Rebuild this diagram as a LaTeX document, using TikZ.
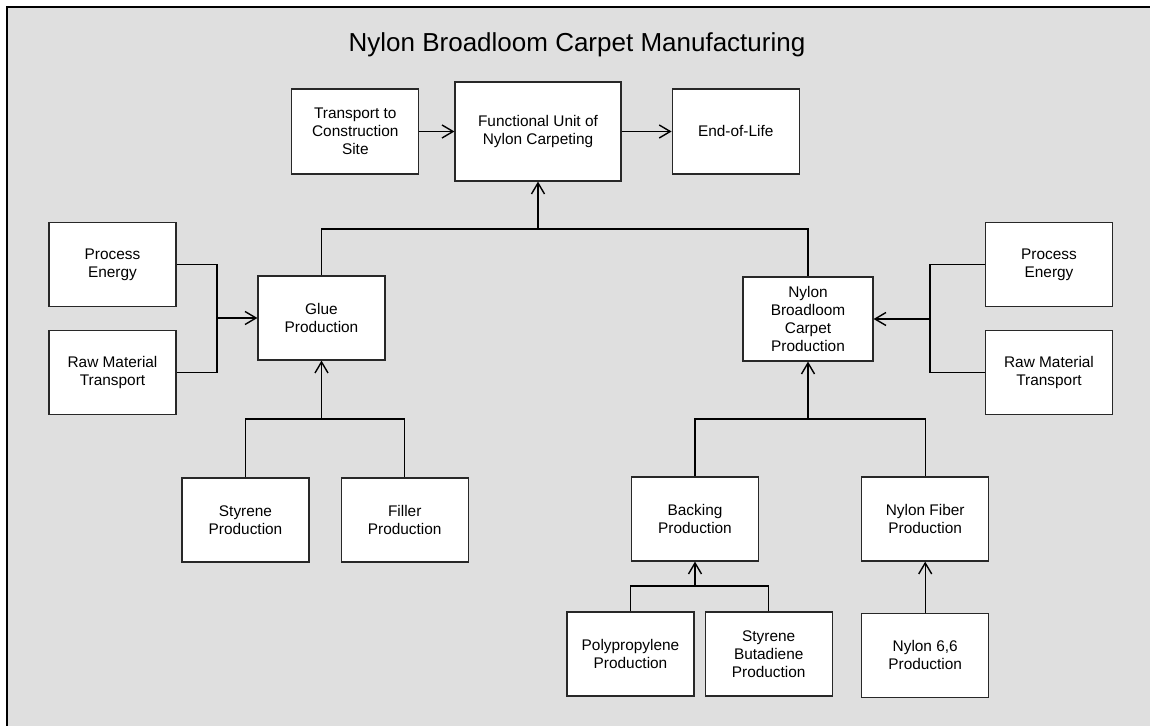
\documentclass[tikz,border=0pt]{standalone}
\usepackage{fontspec}
\setmainfont{Liberation Sans}
\usetikzlibrary{arrows.meta,positioning}
\definecolor{panelgray}{RGB}{223,223,223}
\definecolor{edgegray}{RGB}{40,40,40}

\begin{document}
\begin{tikzpicture}[
      x=0.5pt, y=-0.5pt,
      font=\fontsize{7.7}{9}\selectfont,
      box/.style={draw=edgegray, line width=0.6pt, fill=white, align=center,
        inner sep=1pt, minimum height=42pt},
      wbox/.style={box, minimum width=63.5pt},
      lnk/.style={line width=0.7pt},
      arr/.style={lnk, -{Straight Barb[length=5.5pt, width=6.5pt]}}
    ]
    \useasboundingbox (0,0) rectangle (1150,726);
    \fill[panelgray] (7,7) rectangle (1150,726);
    \draw[line width=1pt] (7,726) -- (7,7) -- (1150,7);

    \node[font=\fontsize{13}{15}\selectfont, anchor=base] (title) at (577,52)
      {Nylon Broadloom Carpet Manufacturing};

    % top row
    \node[box, minimum width=83pt, minimum height=49.5pt] (fu) at (538,131.5)
      {Functional Unit of\\Nylon Carpeting};
    \node[wbox, minimum height=42.5pt, left=17.5pt of fu] (site)
      {Transport to\\Construction\\Site};
    \node[wbox, minimum height=42.5pt, right=25pt of fu] (eol) {End-of-Life};

    % glue branch
    \node[wbox] (glue) at (321.5,318) {Glue\\Production};
    \node[wbox] (lpe) at (112.5,264.5) {Process\\Energy};
    \node[wbox, below=11.5pt of lpe] (lrmt) {Raw Material\\Transport};
    \node[wbox] (sty) at (245.5,520) {Styrene\\Production};
    \node[wbox, right=15.5pt of sty] (filler) {Filler\\Production};

    % carpet branch
    \node[box, minimum width=65pt] (carpet) at (808,319)
      {Nylon\\Broadloom\\Carpet\\Production};
    \node[wbox] (rpe) at (1049,264.5) {Process\\Energy};
    \node[wbox, below=11.5pt of rpe] (rrmt) {Raw Material\\Transport};
    \node[wbox] (backing) at (695,519) {Backing\\Production};
    \node[wbox, right=51pt of backing] (fiber) {Nylon Fiber\\Production};
    \node[wbox] (poly) at (630.5,654) {Polypropylene\\Production};
    \node[wbox, right=5pt of poly] (sbr) {Styrene\\Butadiene\\Production};
    \node[wbox, below=25.5pt of fiber] (n66) {Nylon 6,6\\Production};

    \coordinate (topjoin) at (538,229);
    \coordinate (ljoin) at (217,318);
    \coordinate (rjoin) at (930,319);
    \coordinate (gjoin) at (321.5,419);
    \coordinate (cjoin) at (808,419);
    \coordinate (bjoin) at (695,586);

    \draw[arr] (site.east) -- (site.east -| fu.west);
    \draw[arr] (fu.east) -- (eol.west);

    \draw[lnk] (glue.north) |- (topjoin) -| (carpet.north);
    \draw[arr] (topjoin) -- (fu.south);

    \draw[lnk] (lpe.east) -| (ljoin) |- (lrmt.east);
    \draw[arr] (ljoin) -- (glue.west);
    \draw[lnk] (rpe.west) -| (rjoin) |- (rrmt.west);
    \draw[arr] (rjoin) -- (carpet.east);

    \draw[lnk] (sty.north) |- (gjoin) -| (filler.north);
    \draw[arr] (gjoin) -- (glue.south);
    \draw[lnk] (backing.north) |- (cjoin) -| (fiber.north);
    \draw[arr] (cjoin) -- (carpet.south);
    \draw[lnk] (poly.north) |- (bjoin) -| (sbr.north);
    \draw[arr] (bjoin) -- (backing.south);
    \draw[arr] (n66) -- (fiber);
  \end{tikzpicture}
\end{document}
